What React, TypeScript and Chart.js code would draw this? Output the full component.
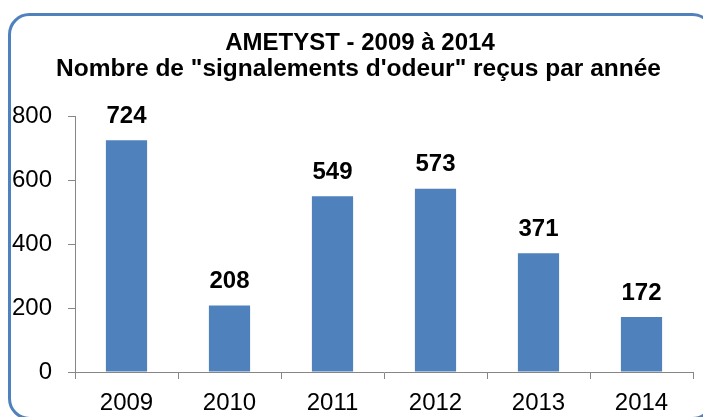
import React, { useEffect, useRef } from "react";
import { Chart, registerables } from "chart.js";

Chart.register(...registerables);

const categories = ["2009", "2010", "2011", "2012", "2013", "2014"];
const values = [724, 208, 549, 573, 371, 172];
const yTicks = [0, 200, 400, 600, 800];
const titleLines = ["AMETYST - 2009 à 2014", "Nombre de \"signalements d'odeur\" reçus par année"];

const FONT = "'Liberation Sans', Arial, sans-serif";
const BAR = "#4F81BD";
const AXIS = "#868686";

const framePlugin = {
  id: "frame",
  beforeDraw(chart: any) {
    const ctx = chart.ctx;
    ctx.save();
    ctx.fillStyle = "#ffffff";
    ctx.fillRect(0, 0, chart.width, chart.height);
    const x = 9.5, y = 14.5, w = 703, h = 404, r = 20;
    ctx.beginPath();
    ctx.moveTo(x + r, y);
    ctx.lineTo(x + w - r, y);
    ctx.arcTo(x + w, y, x + w, y + r, r);
    ctx.lineTo(x + w, y + h - r);
    ctx.arcTo(x + w, y + h, x + w - r, y + h, r);
    ctx.lineTo(x + r, y + h);
    ctx.arcTo(x, y + h, x, y + h - r, r);
    ctx.lineTo(x, y + r);
    ctx.arcTo(x, y, x + r, y, r);
    ctx.closePath();
    ctx.lineWidth = 3;
    ctx.strokeStyle = "#4F81BD";
    ctx.stroke();
    ctx.fillStyle = "#000";
    ctx.font = `bold 24px ${FONT}`;
    ctx.textAlign = "center";
    ctx.textBaseline = "alphabetic";
    ctx.fillText(titleLines[0], 360, 50);
    ctx.font = `bold 24.5px ${FONT}`;
    ctx.fillText(titleLines[1], 358.5, 75.5);
    ctx.restore();
  },
};

const labelPlugin = {
  id: "barLabels",
  afterDatasetsDraw(chart: any) {
    const ctx = chart.ctx;
    const meta = chart.getDatasetMeta(0);
    ctx.save();
    ctx.fillStyle = "#000";
    ctx.font = `bold 24px ${FONT}`;
    ctx.textAlign = "center";
    ctx.textBaseline = "middle";
    meta.data.forEach((bar: any, i: number) => {
      ctx.fillText(String(values[i]), bar.x, bar.y - 24);
    });
    ctx.restore();
  },
};

export default function App() {
  const ref = useRef<HTMLCanvasElement>(null);
  useEffect(() => {
    const chart = new Chart(ref.current!, {
      type: "bar",
      data: {
        labels: categories,
        datasets: [
          {
            data: values,
            backgroundColor: BAR,
            barPercentage: 0.4,
            categoryPercentage: 1,
          },
        ],
      },
      options: {
        animation: false,
        responsive: false,
        devicePixelRatio: 1,
        layout: { padding: { top: 116, right: 10, left: 0, bottom: 0 } },
        plugins: { legend: { display: false }, tooltip: { enabled: false }, title: { display: false } },
        scales: {
          x: {
            offset: true,
            grid: { offset: true, drawOnChartArea: false, drawTicks: true, tickLength: 7, color: AXIS },
            border: { display: true, color: AXIS, width: 1 },
            ticks: { color: "#000", font: { family: FONT, size: 24 }, padding: 10, maxRotation: 0 },
            afterFit(scale: any) { scale.height = 45; },
          },
          y: {
            min: 0,
            max: 800,
            afterBuildTicks(scale: any) { scale.ticks = yTicks.map((v) => ({ value: v })); },
            grid: { drawOnChartArea: false, drawTicks: true, tickLength: 7, color: AXIS },
            border: { display: true, color: AXIS, width: 1 },
            ticks: { color: "#000", font: { family: FONT, size: 24 }, padding: 16 },
            afterFit(scale: any) { scale.width = 75; },
          },
        },
      },
      plugins: [framePlugin, labelPlugin],
    });
    return () => chart.destroy();
  }, []);
  return (
    <div style={{ position: "fixed", left: 0, top: 0, width: 703, height: 417 }}>
      <canvas ref={ref} width={703} height={417} style={{ display: "block" }} />
    </div>
  );
}
